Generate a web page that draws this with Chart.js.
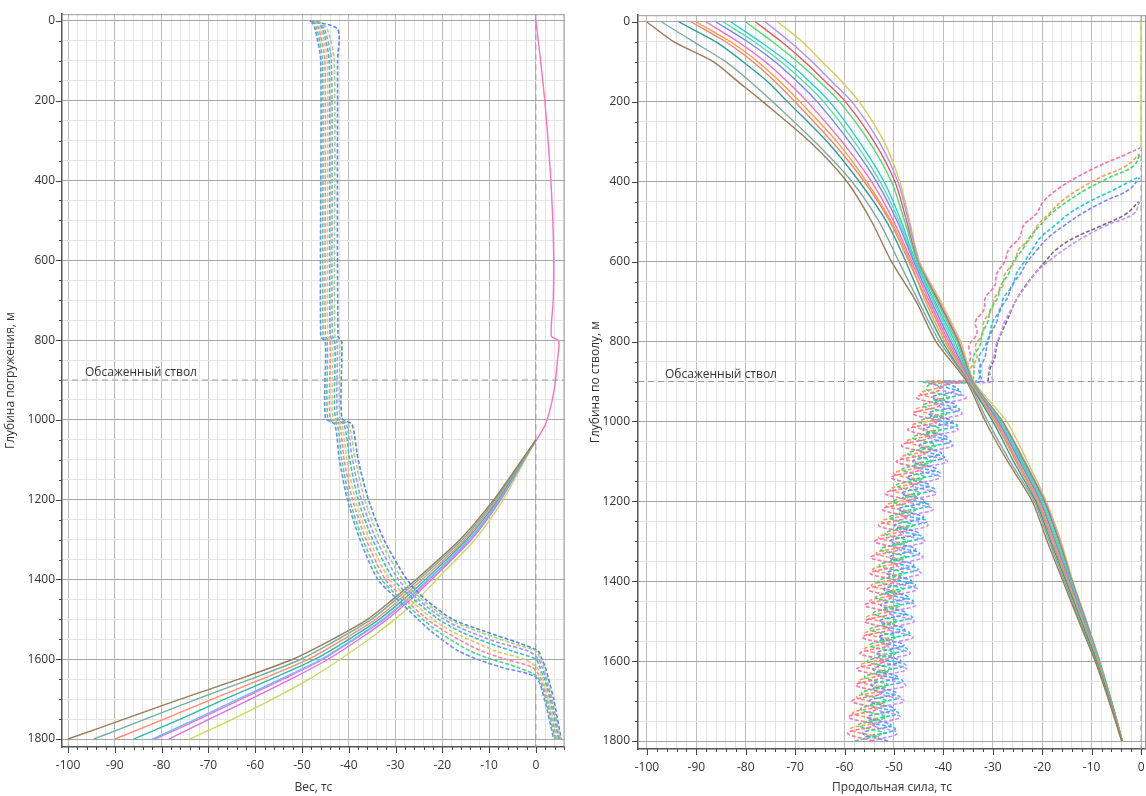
<!DOCTYPE html>
<html>
<head>
<meta charset="utf-8">
<script src="https://cdn.jsdelivr.net/npm/chart.js@4.4.1/dist/chart.umd.min.js"></script>
<style>
  html, body { margin: 0; padding: 0; background: #fff; }
  #wrap { position: relative; width: 1146px; height: 796px; overflow: hidden; }
  #leftBox { position: absolute; left: 0; top: 0; width: 575px; height: 796px; }
  #rightBox { position: absolute; left: 585px; top: 0; width: 581px; height: 796px; }
</style>
</head>
<body>
<div id="wrap">
  <div id="leftBox"><canvas id="weightChart"></canvas></div>
  <div id="rightBox"><canvas id="forceChart"></canvas></div>
</div>
<script>
// ---- shared
const CASED_DEPTH = 900;
const CASED_LABEL = 'Обсаженный ствол';
const DEPTH_LABELS = [0, 200, 400, 600, 800, 1000, 1200, 1400, 1600, 1800];
const FORCE_LABELS = [-100, -90, -80, -70, -60, -50, -40, -30, -20, -10, 0];
const DEPTH_MIN = -17, DEPTH_MAX = 1820;

// ---- left chart: weight (Вес, тс) vs depth
const WEIGHT_MIN = -101.3, WEIGHT_MAX = 6.15;

// dashed bundle
const DEPTH_A = [0, 20, 100, 790, 805, 995, 1012, 1100, 1200, 1300, 1400, 1450, 1500, 1530, 1560, 1580, 1600, 1620, 1645, 1700, 1800];
const weightA1 = [-48, -47.2, -46, -46, -45, -45, -43, -42, -40.3, -37.6, -33.8, -29.6, -25.2, -22.4, -19, -16.5, -12.5, -7.5, 0, 1.8, 3.8];
const weightA2 = [-47.8, -46.8, -45.6, -45.5, -44.6, -44.5, -42.5, -41.5, -39.8, -37, -33, -28.8, -24.2, -21, -17, -14, -9.5, -4, 0.4, 2.1, 4.1];
const weightA3 = [-47.5, -46.4, -45.1, -45, -44, -44, -42, -41, -39.2, -36.3, -32.2, -28, -23.2, -19.5, -15, -11.5, -6.5, -0.8, 0.9, 2.4, 4.4];
const weightA4 = [-47.2, -46, -44.6, -44.5, -43.5, -43.4, -41.5, -40.4, -38.6, -35.6, -31.3, -27, -22, -18, -12.5, -8.5, -2.5, 0.2, 1.3, 2.7, 4.6];
const weightA5 = [-47, -45.6, -44.2, -44, -43, -42.9, -41, -39.8, -38, -34.9, -30.4, -26.1, -20.8, -16.3, -10, -5, 0, 0.8, 1.7, 3, 4.8];
const weightA6 = [-46.8, -45.2, -43.7, -43.5, -42.5, -42.4, -40.5, -39.2, -37.3, -34.1, -29.4, -25.2, -19.6, -14.5, -7.5, -1.5, 0.6, 1.3, 2, 3.3, 5];
const weightA7 = [-46.5, -44.6, -43.1, -43, -42, -41.9, -40, -38.6, -36.6, -33.3, -28.5, -24.4, -18.6, -12.5, -5, 0.1, 1, 1.7, 2.3, 3.5, 5.2];
const weightA8 = [-48.3, -42.4, -42.4, -42.3, -41.5, -41.5, -39.3, -38, -35.8, -32.5, -27.6, -23.6, -17.8, -11, -3.5, 0.5, 1.3, 2, 2.6, 3.8, 5.4];

// solid bundle
const DEPTH_B = [1050, 1100, 1200, 1300, 1400, 1450, 1500, 1550, 1600, 1650, 1700, 1750, 1800];
const weightB1 = [0, -3, -9, -16.2, -25.6, -30.6, -36, -43.5, -52, -63.5, -76, -88, -100];
const weightB2 = [0, -2.9, -8.7, -15.7, -25, -29.9, -35.2, -42.3, -50.2, -61, -72.5, -83.5, -94.5];
const weightB3 = [0, -2.8, -8.4, -15.2, -24.3, -29.1, -34.3, -41.1, -48.6, -58.6, -69.2, -79.5, -90];
const weightB4 = [0, -2.7, -8.1, -14.8, -23.6, -28.3, -33.5, -40, -47.2, -56.6, -66.5, -76, -86];
const weightB5 = [0, -2.6, -7.8, -14.3, -23, -27.6, -32.7, -39, -45.9, -54.6, -63.7, -72.7, -82];
const weightB6 = [0, -2.5, -7.5, -13.8, -22.3, -26.8, -31.8, -37.8, -44.4, -52.4, -61, -69.8, -78.5];
const weightB7 = [0, -2.3, -7, -13, -21.2, -25.3, -30.2, -35.7, -41.8, -48.5, -56.3, -64.8, -74];

// pink line that runs the whole depth
const DEPTH_P = [0, 100, 200, 300, 400, 500, 600, 700, 790, 802, 850, 900, 950, 1000, 1015, 1053, 1100, 1200, 1300, 1400, 1450, 1500, 1550, 1600, 1650, 1700, 1750, 1800];
const weightP = [0, 1, 1.9, 2.6, 3.2, 3.6, 3.8, 3.7, 3.3, 4.9, 4.6, 4.2, 3.5, 2.4, 1.9, 0, -2.6, -7.7, -14.2, -22.8, -27.4, -32.5, -38.8, -45.5, -54, -63, -72, -81.5];

// ---- right chart: axial force (Продольная сила, тс) vs depth
const FORCE_MIN = -101.8, FORCE_MAX = 1.0;

const DEPTH_C = [0, 50, 100, 150, 200, 300, 400, 500, 600, 700, 800, 900, 1000, 1100, 1200, 1300, 1400, 1500, 1600, 1700, 1800];
const forceC1 = [-100, -94.5, -86.5, -81.5, -76.5, -67, -59.5, -54.5, -50.5, -45.5, -41.5, -35.3, -31.5, -27, -22, -19, -15.8, -12.6, -9.3, -6.5, -3.9];
const forceC2 = [-97, -90.5, -84, -79, -74.5, -66, -58.5, -53, -49, -45, -40.8, -35, -31, -26.5, -21.6, -18.6, -15.5, -12.4, -9.2, -6.4, -3.9];
const forceC3 = [-93.5, -86, -80.5, -75.5, -71.5, -63.5, -57, -51.5, -47.6, -44.2, -40.2, -35, -30, -25.8, -21.3, -18.3, -15.2, -12.1, -9, -6.3, -3.9];
const forceC4 = [-91, -84, -78.5, -74, -70, -62.5, -56, -50.8, -47, -43.2, -39.3, -34.8, -29.6, -25.3, -21, -18, -15, -11.9, -8.9, -6.2, -3.8];
const forceC5 = [-88, -81.5, -76, -71.5, -67.5, -60.5, -54.5, -50, -46.4, -42.8, -38.9, -34.6, -29.2, -25, -20.7, -17.7, -14.7, -11.7, -8.8, -6.2, -3.8];
const forceC6 = [-86, -79.5, -74, -69.5, -65.5, -59, -53.5, -49.3, -46, -42.4, -38.5, -34.4, -28.9, -24.6, -20.4, -17.4, -14.5, -11.6, -8.7, -6.1, -3.8];
const forceC7 = [-83, -77, -71.5, -67, -63, -57, -52, -48.5, -45.6, -41.7, -37.7, -34.3, -28.6, -24.2, -20.1, -17.1, -14.3, -11.4, -8.6, -6.1, -3.8];
const forceC8 = [-80, -74.5, -69.5, -65, -61, -55, -50.5, -47.8, -45.3, -41.3, -37.3, -34.2, -28.3, -23.9, -19.8, -16.8, -14.1, -11.3, -8.5, -6, -3.8];
const forceC9 = [-76, -71, -66.5, -62.5, -58.5, -53, -49.2, -47, -45, -40.8, -36.8, -34, -28, -23.5, -19.4, -16.4, -13.9, -11.1, -8.4, -6, -3.8];
const forceC10 = [-73.5, -68.5, -64.5, -60.5, -57, -52, -48.8, -46.8, -44.8, -40.5, -36.5, -33.8, -27.2, -23, -19.2, -16.2, -13.8, -11, -8.3, -6, -3.8];
const forceC11 = [-90, -83, -77.5, -73, -69, -61.5, -55.5, -50.5, -46.7, -43.6, -39.7, -34.7, -29.4, -25.1, -20.8, -17.8, -14.8, -11.8, -8.8, -6.2, -3.8];
const forceC12 = [-84.5, -78.2, -72.8, -68.2, -64.2, -58, -52.8, -48.9, -45.8, -42, -38.1, -34.3, -28.7, -24.4, -20.2, -17.2, -14.4, -11.5, -8.6, -6.1, -3.8];
const forceC13 = [-78, -72.7, -68, -63.8, -59.8, -54, -49.8, -47.4, -45.2, -41, -37, -34.1, -28.1, -23.7, -19.6, -16.6, -14, -11.2, -8.5, -6, -3.8];

// buckled (helical) dashed bundle, open hole part 1800 -> 900
const DEPTH_DL = [1800, 1780, 1760, 1740, 1720, 1700, 1680, 1660, 1640, 1620, 1600, 1580, 1560, 1540, 1520, 1500,
  1480, 1460, 1440, 1420, 1400, 1380, 1360, 1340, 1320, 1300, 1280, 1260, 1240, 1220, 1200, 1180, 1160, 1140,
  1120, 1100, 1080, 1060, 1040, 1020, 1000, 980, 960, 940, 920, 900];
const DEPTH_DL2 = [1790, 1770, 1750, 1730, 1710, 1690, 1670, 1650, 1630, 1610, 1590, 1570, 1550, 1530, 1510, 1490,
  1470, 1450, 1430, 1410, 1390, 1370, 1350, 1330, 1310, 1290, 1270, 1250, 1230, 1210, 1190, 1170, 1150, 1130,
  1110, 1090, 1070, 1050, 1030, 1010, 990, 970, 950, 930, 910, 900];
const forceD1low = [-54.2, -59.4, -54.0, -59.2, -53.6, -58.5, -52.5, -57.7, -52.4, -57.6, -52.0, -56.9, -51.2, -56.4, -51.0, -55.9,
  -50.7, -55.9, -50.4, -55.4, -49.7, -54.8, -49.4, -54.7, -49.1, -53.9, -48.1, -53.1, -47.5, -52.3, -46.9, -51.8, -46.0, -50.6,
  -44.6, -49.5, -43.8, -48.5, -42.8, -47.2, -41.3, -46.2, -40.8, -45.4, -40.6, -42.5];
const forceD2low = [-57.9, -52.4, -57.2, -51.7, -56.8, -51.5, -56.6, -51.2, -56.0, -50.6, -55.4, -49.7, -54.9, -49.6, -54.8, -49.4,
  -54.2, -48.7, -53.7, -48.2, -53.2, -48.0, -53.0, -47.6, -52.7, -47.2, -51.8, -46.1, -51.0, -45.5, -50.2, -44.7, -49.6, -43.8,
  -48.4, -42.4, -47.2, -41.5, -46.2, -40.5, -44.9, -39.3, -44.2, -38.8, -43.4, -41.5];
const forceD3low = [-51.2, -56.3, -50.6, -55.4, -49.8, -55.0, -49.5, -54.6, -49.3, -54.3, -48.6, -53.5, -48.0, -53.0, -47.8, -52.9,
  -47.5, -52.7, -47.2, -52.0, -46.4, -51.5, -46.0, -50.9, -45.6, -50.8, -45.1, -49.9, -44.0, -49.1, -43.6, -48.4, -42.8, -47.3,
  -41.4, -46.2, -40.4, -44.9, -39.3, -44.1, -38.2, -43.0, -37.4, -42.2, -37.0, -40.0];
const forceD4low = [-54.7, -49.3, -54.3, -48.7, -53.4, -47.9, -53.0, -47.6, -52.6, -47.4, -52.3, -46.7, -51.6, -46.1, -51.1, -45.9,
  -51.0, -45.6, -50.8, -45.3, -50.1, -44.5, -49.5, -44.1, -48.9, -43.7, -48.7, -43.1, -47.8, -42.0, -47.0, -41.4, -46.2, -40.6,
  -45.1, -39.2, -43.9, -38.1, -42.6, -37.0, -41.8, -36.2, -41.0, -35.4, -40.2, -38.5];
const forceD5low = [-53.0, -58.8, -52.7, -58.4, -52.1, -57.6, -51.5, -57.2, -51.2, -56.8, -50.6, -56.1, -50.1, -55.8, -49.9, -55.5,
  -49.4, -54.9, -48.9, -54.6, -48.7, -54.3, -48.1, -53.6, -47.5, -53.1, -47.0, -52.5, -46.3, -51.6, -45.4, -50.8, -44.6, -49.9,
  -43.5, -48.6, -42.2, -47.5, -41.2, -46.4, -40.1, -45.5, -39.6, -44.7, -39.4, -43.5];
const forceD6low = [-55.8, -49.7, -55.1, -49.1, -54.7, -48.8, -54.3, -48.2, -53.6, -47.6, -53.2, -47.3, -52.9, -46.8, -52.3, -46.3,
  -52.0, -46.1, -51.7, -45.6, -51.1, -45.1, -50.7, -44.8, -50.3, -44.1, -49.5, -43.3, -48.9, -42.8, -48.2, -41.8, -47.0, -40.7,
  -46.1, -39.8, -45.0, -38.5, -43.6, -37.2, -42.7, -36.7, -41.9, -36.3, -41.0, -44.0];

// cased part 900 -> neutral point
const DEPTH_DU = [900, 870, 840, 810, 780, 750, 720, 690, 660, 630, 600, 570, 540, 510, 480, 450, 420, 390, 360, 330, 315];
const forceD1up = [-36.2, -35.6, -34.5, -34.8, -33.2, -33.5, -31.8, -31.5, -29.6, -29.2, -27.6, -26.8, -24.6, -23.8, -21.2, -19.8, -17, -13.2, -8.5, -2.8, -0.2];
const forceD2up = [-34.5, -33.8, -34, -32.6, -32.2, -31, -30.5, -29, -28.4, -26.8, -25.9, -24, -22.6, -20.5, -18.2, -15, -11.2, -6.5, -1.5, -0.2, null];
const forceD3up = [-32.5, -32.8, -31.6, -31.2, -30.4, -29.2, -28.6, -27, -26.2, -24.4, -23, -21, -18.8, -15.6, -12, -7.6, -2.5, -0.3, null, null, null];
const forceD4up = [-30.2, -30.8, -29.8, -29.4, -28.4, -27.6, -26.3, -25, -23.2, -21.5, -18.8, -15.6, -11.8, -7.2, -1.5, -0.3, null, null, null, null, null];
const forceD5up = [-35, -34.6, -33.2, -33.5, -32, -31.8, -30.2, -29.6, -28, -27.5, -25.5, -24.8, -22.2, -21, -18.6, -16.2, -12.8, -8.4, -3, -0.3, null];
const forceD6up = [-33.5, -32.4, -32.8, -31.5, -30.6, -30, -28.4, -27.8, -26, -25.2, -23.6, -22, -20.4, -17.5, -14.6, -10.5, -5.5, -0.8, null, null, null];
const forceD7up = [-31, -30.6, -29.6, -29.2, -28.3, -27.2, -26.2, -25, -23.4, -21.5, -19.4, -17.2, -13.5, -8, -3, -0.5, null, null, null, null, null];

// zero-force part at the top
const DEPTH_ZERO = [0, 315];
const forceZero = [0, 0];

// ---- helpers
function line(xs, ds, color, dashed, tension) {
  const data = [];
  xs.forEach((v, i) => { if (v !== null) data.push({ x: v, y: ds[i] }); });
  return {
    data: data,
    borderColor: color,
    borderWidth: dashed ? 1.6 : 1.4,
    borderDash: dashed ? [4, 2] : [],
    pointRadius: 0,
    showLine: true,
    fill: false,
    tension: tension || 0.25
  };
}

function refLine(points) {
  return {
    data: points,
    borderColor: '#9a9a9a',
    borderWidth: 1,
    borderDash: [6, 4],
    pointRadius: 0,
    showLine: true,
    fill: false,
    tension: 0
  };
}

function stepTicks(from, to, step) {
  const out = [];
  for (let v = from; v <= to + 1e-9; v += step) out.push({ value: Math.round(v * 100) / 100 });
  return out;
}

// frame, small tick marks and casing label
const framePlugin = {
  id: 'frame',
  afterDraw(chart, args, opts) {
    const { ctx, chartArea: a, scales } = chart;
    const x = scales.x, y = scales.y;
    ctx.save();
    ctx.strokeStyle = '#9a9a9a';
    ctx.lineWidth = 1;
    ctx.beginPath();
    ctx.moveTo(a.left, a.top + 0.5); ctx.lineTo(a.right, a.top + 0.5);
    ctx.moveTo(a.right - 0.5, a.top); ctx.lineTo(a.right - 0.5, a.bottom);
    ctx.stroke();

    ctx.strokeStyle = '#444';
    ctx.beginPath();
    x.ticks.forEach(t => {
      const px = Math.round(x.getPixelForValue(t.value)) + 0.5;
      const len = t.value % 10 === 0 ? 6 : 3;
      ctx.moveTo(px, a.bottom); ctx.lineTo(px, a.bottom + len);
    });
    y.ticks.forEach(t => {
      const py = Math.round(y.getPixelForValue(t.value)) + 0.5;
      const len = DEPTH_LABELS.includes(t.value) ? 6 : 3;
      ctx.moveTo(a.left, py); ctx.lineTo(a.left - len, py);
    });
    ctx.stroke();

    ctx.fillStyle = '#333';
    ctx.font = "12px 'Open Sans', sans-serif";
    ctx.textBaseline = 'bottom';
    ctx.fillText(CASED_LABEL, a.left + opts.labelOffset, y.getPixelForValue(CASED_DEPTH) - 1);
    ctx.restore();
  }
};

function makeOptions(cfg) {
  return {
    responsive: true,
    maintainAspectRatio: false,
    animation: false,
    layout: { padding: { top: cfg.padTop, right: cfg.padRight, left: 0, bottom: 0 } },
    plugins: {
      legend: { display: false },
      tooltip: { enabled: false },
      frame: { labelOffset: cfg.labelOffset }
    },
    scales: {
      x: {
        type: 'linear',
        position: 'bottom',
        min: cfg.xMin,
        max: cfg.xMax,
        afterBuildTicks: s => { s.ticks = stepTicks(cfg.tickFrom, cfg.tickTo, 2); },
        afterFit: s => { s.height = cfg.xAxisHeight; },
        grid: {
          drawTicks: false,
          color: c => (c.tick && c.tick.value % 10 === 0) ? '#bcbcbc' : '#e4e4e4',
          lineWidth: 1
        },
        border: { display: true, color: '#555', width: 1.5 },
        ticks: {
          autoSkip: false,
          maxRotation: 0,
          padding: 11,
          color: '#333',
          font: { family: "'Open Sans', sans-serif", size: 12 },
          callback: v => FORCE_LABELS.includes(v) ? String(v) : ''
        },
        title: {
          display: true,
          text: cfg.xTitle,
          color: '#333',
          font: { family: "'Open Sans', sans-serif", size: 12 },
          padding: { top: 0, bottom: 1 }
        }
      },
      y: {
        type: 'linear',
        reverse: true,
        min: DEPTH_MIN,
        max: DEPTH_MAX,
        afterBuildTicks: s => { s.ticks = stepTicks(0, 1800, 50); },
        afterFit: s => { s.width = cfg.yAxisWidth; },
        grid: {
          drawTicks: false,
          color: c => (c.tick && DEPTH_LABELS.includes(c.tick.value)) ? '#a4a4a4' : '#e4e4e4',
          lineWidth: 1
        },
        border: { display: true, color: '#555', width: 1.5 },
        ticks: {
          autoSkip: false,
          padding: cfg.yPad,
          color: '#333',
          font: { family: "'Open Sans', sans-serif", size: 12 },
          callback: v => DEPTH_LABELS.includes(v) ? String(v) : ''
        },
        title: {
          display: true,
          text: cfg.yTitle,
          color: '#333',
          font: { family: "'Open Sans', sans-serif", size: 12 },
          padding: { top: 3, bottom: 0 }
        }
      }
    }
  };
}

// ---- left chart
const weightSets = [
  line(weightA1, DEPTH_A, '#6b8cff', true),
  line(weightA2, DEPTH_A, '#3ddc84', true),
  line(weightA3, DEPTH_A, '#ff80b4', true),
  line(weightA4, DEPTH_A, '#e4c860', true),
  line(weightA5, DEPTH_A, '#2cc8c8', true),
  line(weightA6, DEPTH_A, '#b48cff', true),
  line(weightA7, DEPTH_A, '#8fe070', true),
  line(weightA8, DEPTH_A, '#5b80f0', true),
  line(weightB1, DEPTH_B, '#9a7b55', false),
  line(weightB2, DEPTH_B, '#6fb0a0', false),
  line(weightB3, DEPTH_B, '#ff8a70', false),
  line(weightB4, DEPTH_B, '#2fb8a8', false),
  line(weightB5, DEPTH_B, '#60c0ff', false),
  line(weightB6, DEPTH_B, '#e070e0', false),
  line(weightB7, DEPTH_B, '#c8dc5a', false),
  line(weightP, DEPTH_P, '#ff6ec7', false),
  refLine([{ x: WEIGHT_MIN, y: CASED_DEPTH }, { x: WEIGHT_MAX, y: CASED_DEPTH }]),
  refLine([{ x: 0, y: DEPTH_MIN }, { x: 0, y: DEPTH_MAX }])
];

new Chart(document.getElementById('weightChart'), {
  type: 'scatter',
  data: { datasets: weightSets },
  options: makeOptions({
    xMin: WEIGHT_MIN, xMax: WEIGHT_MAX, tickFrom: -100, tickTo: 6,
    padTop: 9, padRight: 6, xAxisHeight: 49, yAxisWidth: 62, yPad: 7,
    labelOffset: 23, xTitle: 'Вес, тс', yTitle: 'Глубина погружения, м'
  }),
  plugins: [framePlugin]
});

// ---- right chart
const forceSets = [
  line(forceC1, DEPTH_C, '#9a7b55', false),
  line(forceC2, DEPTH_C, '#80aaa2', false),
  line(forceC3, DEPTH_C, '#2aa198', false),
  line(forceC11, DEPTH_C, '#f0a040', false),
  line(forceC4, DEPTH_C, '#ff7f6e', false),
  line(forceC5, DEPTH_C, '#ff66cc', false),
  line(forceC6, DEPTH_C, '#7088ff', false),
  line(forceC12, DEPTH_C, '#55e0a0', false),
  line(forceC7, DEPTH_C, '#22d0e0', false),
  line(forceC8, DEPTH_C, '#4cdc78', false),
  line(forceC13, DEPTH_C, '#e05a5a', false),
  line(forceC9, DEPTH_C, '#b090ff', false),
  line(forceC10, DEPTH_C, '#d8cc50', false),
  line(forceD1low.concat(forceD1up), DEPTH_DL.concat(DEPTH_DU), '#ff6fa8', true, 0.4),
  line(forceD2low.concat(forceD2up), DEPTH_DL.concat(DEPTH_DU), '#3ddc6c', true, 0.4),
  line(forceD3low.concat(forceD3up), DEPTH_DL.concat(DEPTH_DU), '#6f8cff', true, 0.4),
  line(forceD4low.concat(forceD4up), DEPTH_DL.concat(DEPTH_DU), '#c890ff', true, 0.4),
  line(forceD5low.concat(forceD5up), DEPTH_DL2.concat(DEPTH_DU), '#ff9a50', true, 0.4),
  line(forceD6low.concat(forceD6up), DEPTH_DL2.concat(DEPTH_DU), '#22c8d8', true, 0.4),
  line(forceD7up, DEPTH_DU, '#707070', true, 0.4),
  line(forceZero, DEPTH_ZERO, '#c8dc50', false),
  refLine([{ x: FORCE_MIN, y: CASED_DEPTH }, { x: FORCE_MAX, y: CASED_DEPTH }]),
  refLine([{ x: 0, y: DEPTH_MIN }, { x: 0, y: DEPTH_MAX }])
];

new Chart(document.getElementById('forceChart'), {
  type: 'scatter',
  data: { datasets: forceSets },
  options: makeOptions({
    xMin: FORCE_MIN, xMax: FORCE_MAX, tickFrom: -100, tickTo: 0,
    padTop: 11, padRight: 20, xAxisHeight: 47, yAxisWidth: 53, yPad: 8,
    labelOffset: 27, xTitle: 'Продольная сила, тс', yTitle: 'Глубина по стволу, м'
  }),
  plugins: [framePlugin]
});
</script>
</body>
</html>
